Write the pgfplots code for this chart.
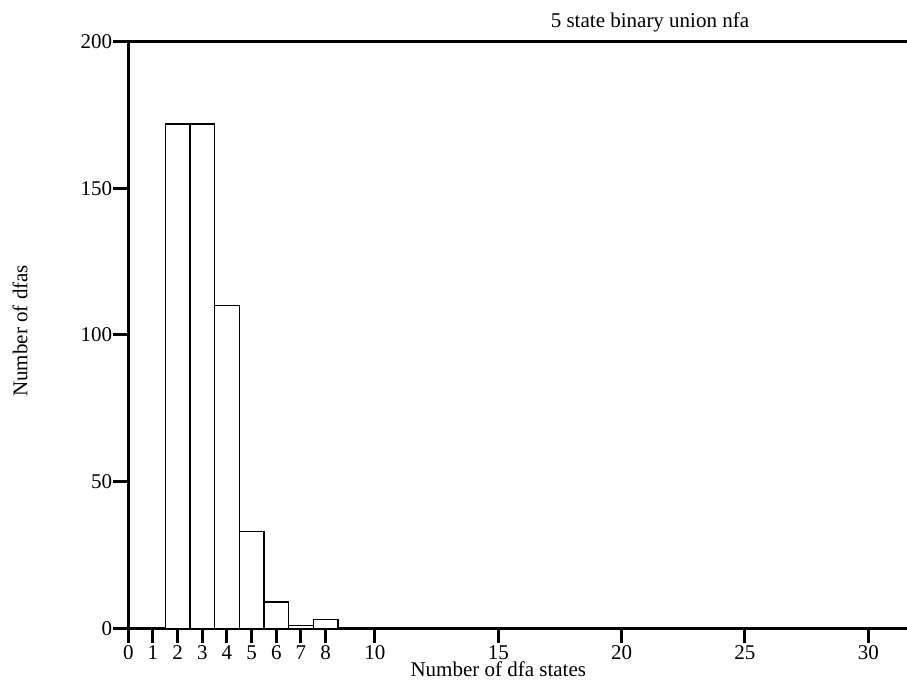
\documentclass[border=0pt]{standalone}
\usepackage{fontspec}
\setmainfont{Liberation Serif}
\usepackage{pgfplots}
\pgfplotsset{compat=1.18}
\begin{document}
\begin{tikzpicture}[font=\fontsize{21bp}{25bp}\selectfont]
\begin{axis}[
  scale only axis, width=778.7bp, height=586.6bp,
  xmin=0, xmax=31.57, ymin=0, ymax=200,
  axis lines=left,
  axis line style={-, line width=3bp, black},
  tick style={line width=3bp, black},
  major tick length=15bp, tick align=outside,
  xtick={0,1,2,3,4,5,6,7,8,10,15,20,25,30},
  ytick={0,50,100,150,200},
  /pgf/number format/assume math mode=true,
  ticklabel style={font=\fontsize{21bp}{25bp}\selectfont},
  xticklabel style={anchor=base, yshift=-16.5bp, inner sep=0pt},
  yticklabel style={inner sep=1bp},
  clip=false,
]
\addplot[ybar, bar width=1, bar shift=0, fill=white, draw=black, line width=1.5bp]
  coordinates {(2,172) (3,172) (4,110) (5,33) (6,9) (7,1) (8,3)};
\draw[line width=3bp] (rel axis cs:0,1) -- (rel axis cs:1,1);
\node[anchor=base] at (axis cs:21.15,205) {5 state binary union nfa};
\node[anchor=base, inner sep=0pt] at (axis cs:15,-16.6) {Number of dfa states};
\node[rotate=90] at (axis cs:-4.39,101.4) {Number of dfas};
\coordinate (O) at (rel axis cs:0,0);
\end{axis}
\pgfresetboundingbox
\path (O) ++(-128.3bp,-51.7bp) rectangle ++(907bp,680bp);
\end{tikzpicture}
\end{document}
